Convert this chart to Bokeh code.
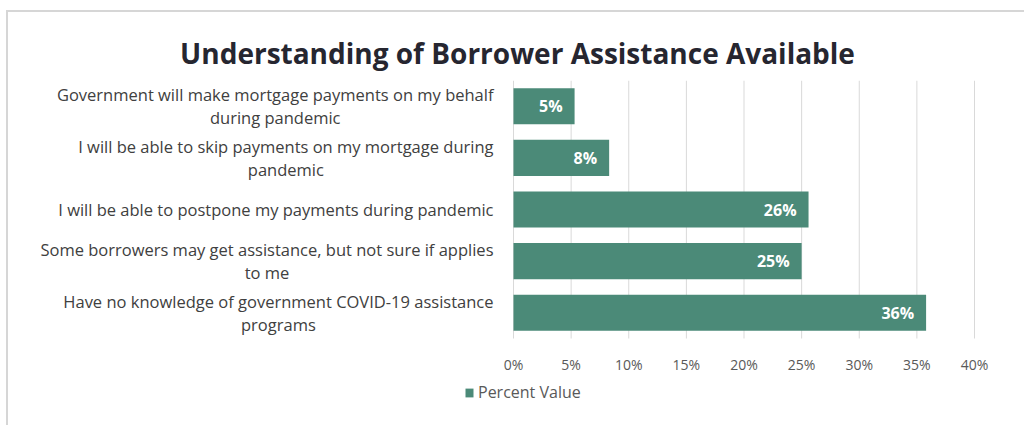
from bokeh.plotting import figure
from bokeh.models import Range1d, PrintfTickFormatter, FixedTicker, ColumnDataSource
from bokeh.core.properties import value
from bokeh.embed import file_html
from bokeh.resources import INLINE

categories = [
    "Government will make mortgage payments on my behalf\nduring pandemic",
    "I will be able to skip payments on my mortgage during\npandemic",
    "I will be able to postpone my payments during pandemic",
    "Some borrowers may get assistance, but not sure if applies\nto me",
    "Have no knowledge of government COVID-19 assistance\nprograms",
]
values = [5.3, 8.3, 25.6, 25.0, 35.8]
value_labels = ["5%", "8%", "26%", "25%", "36%"]
x_ticks = [0, 5, 10, 15, 20, 25, 30, 35, 40]
series_name = "Percent Value"
title_text = "Understanding of Borrower Assistance Available"

# layout (pixels)
W, H = 1018, 415
AXIS_X0, AXIS_X1 = 505, 966      # screen x of 0% and 40%
BAND_TOP, BAND_BOTTOM = 68, 326  # screen y of the category band area
FONT = "Open Sans"
BAR = "#4b8a78"
GRID = "#d9d9d9"

n = len(categories)
ypos = list(range(n))            # category slot, 0 at top
x_per_px = (x_ticks[-1] - x_ticks[0]) / (AXIS_X1 - AXIS_X0)
x_start = x_ticks[0] - AXIS_X0 * x_per_px
x_end = x_ticks[-1] + (W - AXIS_X1) * x_per_px
y_per_px = n / (BAND_BOTTOM - BAND_TOP)
y_top = -0.5
y_bottom = n - 0.5 + (H - BAND_BOTTOM) * y_per_px

src = ColumnDataSource(dict(y=ypos, cat=categories, val=values, lab=value_labels,
                            zero=[0] * n))

p = figure(
    x_range=Range1d(x_start, x_end),
    y_range=Range1d(y_bottom, y_top),
    y_axis_location=None,
    output_backend="svg", toolbar_location=None,
    width=W, height=H,
    min_border_left=0, min_border_right=0, min_border_top=BAND_TOP, min_border_bottom=0,
    background_fill_color="white", border_fill_color="white",
)
p.outline_line_color = None
p.xgrid.visible = False
p.ygrid.visible = False

# vertical gridlines over the category band only
p.segment(x0=x_ticks, x1=x_ticks, y0=[y_top] * len(x_ticks), y1=[n - 0.5] * len(x_ticks),
          line_color=GRID, line_width=1)

p.hbar(y="y", right="val", left=0, height=0.7, source=src, fill_color=BAR,
       line_color=None, legend_label=series_name)
p.text(x="val", y="y", text="lab", source=src, text_align="right", text_baseline="middle",
       x_offset=-12, text_color="white", text_font=value(FONT), text_font_style="bold",
       text_font_size="16px")
# category labels: block anchored at its right, lines centred within it
p.text(x="zero", y="y", text="cat", source=src, anchor="center_right",
       text_align="center", text_baseline="middle",
       x_offset=-20, text_color="#404040", text_font=value(FONT), text_font_size="16.5px",
       text_line_height=1.0)

p.xaxis.fixed_location = n - 0.5
p.xaxis.ticker = FixedTicker(ticks=x_ticks)
p.xaxis.formatter = PrintfTickFormatter(format="%d%%")
p.xaxis.axis_line_color = None
p.xaxis.major_tick_line_color = None
p.xaxis.minor_tick_line_color = None
p.xaxis.major_label_standoff = 10
p.xaxis.major_label_text_font = FONT
p.xaxis.major_label_text_font_size = "14px"
p.xaxis.major_label_text_color = "#595959"

p.title.text = title_text
p.title.text_font = FONT
p.title.text_font_size = "28px"
p.title.text_font_style = "bold"
p.title.text_color = "#262630"
p.title.align = "center"
p.title.standoff = 17

lg = p.legend[0]
lg.location = (456, 24)
lg.orientation = "horizontal"
lg.border_line_color = None
lg.background_fill_alpha = 0
lg.glyph_width = 10
lg.glyph_height = 11
lg.label_text_font = FONT
lg.label_text_font_size = "16px"
lg.label_text_color = "#595959"
lg.label_standoff = 4
lg.padding = 0
lg.margin = 0

p.styles = {"margin-left": "6px", "margin-top": "10px",
            "border-left": "2px solid #d6d6d6", "border-top": "2px solid #d6d6d6"}

open("out.html", "w").write(file_html(p, INLINE))
